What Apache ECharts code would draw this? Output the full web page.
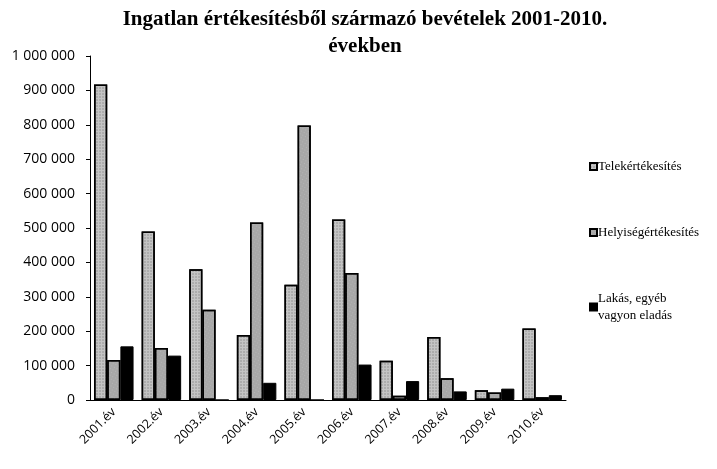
<!DOCTYPE html>
<html>
<head>
<meta charset="utf-8">
<script src="https://cdn.jsdelivr.net/npm/echarts@6/dist/echarts.min.js"></script>
<style>
html, body { margin: 0; padding: 0; background: #fff; }
#main { width: 717px; height: 469px; }
</style>
</head>
<body>
<div id="main"></div>
<script>
var years = ['2001.év', '2002.év', '2003.év', '2004.év', '2005.év', '2006.év', '2007.év', '2008.év', '2009.év', '2010.év'];
var telek = [917000, 490000, 380000, 189000, 335000, 525000, 114000, 183000, 28000, 208000];
var helyiseg = [116000, 151000, 262000, 516000, 798000, 369000, 12000, 63000, 22000, 8000];
var lakas = [156000, 129000, 0, 50000, 0, 103000, 55000, 25000, 33000, 14000];
var yTicks = [0, 100000, 200000, 300000, 400000, 500000, 600000, 700000, 800000, 900000, 1000000];

function fmt(v) {
    return String(v).replace(/\B(?=(\d{3})+(?!\d))/g, ' ');
}

var chart = echarts.init(document.getElementById('main'));
option = {
    backgroundColor: '#fff',
    title: {
        text: 'Ingatlan értékesítésből származó bevételek 2001-2010.\névekben',
        left: 360,
        textAlign: 'center',
        top: 1,
        textStyle: {
            fontFamily: 'Liberation Serif',
            fontWeight: 'bold',
            fontSize: 21,
            lineHeight: 27,
            color: '#000'
        }
    },
    legend: {
        orient: 'vertical',
        left: 584,
        top: 153,
        itemGap: 49,
        itemWidth: 7,
        itemHeight: 7,
        icon: 'rect',
        textStyle: {
            fontFamily: 'Liberation Serif',
            fontSize: 13,
            color: '#000',
            lineHeight: 17,
            padding: [0, 0, 0, -4]
        },
        data: ['Telekértékesítés', 'Helyiségértékesítés', 'Lakás, egyéb\nvagyon eladás']
    },
    grid: {
        left: 90,
        right: 151,
        top: 56,
        bottom: 69
    },
    xAxis: {
        type: 'category',
        data: years,
        axisLine: { lineStyle: { color: '#000', width: 1 } },
        axisTick: { lineStyle: { color: '#000' }, length: 4 },
        axisLabel: {
            rotate: 45,
            color: '#000',
            fontFamily: 'Open Sans',
            fontSize: 12.5,
            margin: 10
        }
    },
    yAxis: {
        type: 'value',
        min: 0,
        max: 1000000,
        interval: 100000,
        axisLine: { show: true, lineStyle: { color: '#000', width: 1 } },
        axisTick: { show: true, lineStyle: { color: '#000' }, length: 4 },
        splitLine: { show: false },
        axisLabel: {
            color: '#000',
            fontFamily: 'Open Sans',
            fontSize: 14,
            margin: 15,
            formatter: function (v) { return yTicks.indexOf(v) >= 0 ? fmt(v) : ''; }
        }
    },
    series: [{
        name: 'Telekértékesítés',
        type: 'bar',
        data: telek,
        barGap: '0%',
        barCategoryGap: '17%',
        itemStyle: {
            color: '#c4c4c4',
            borderColor: '#000',
            borderWidth: 1.5,
            decal: { symbol: 'rect', symbolSize: 0.6, color: 'rgba(60,60,60,0.55)', dashArrayX: [2, 1], dashArrayY: [2, 1], rotation: 0 }
        }
    }, {
        name: 'Helyiségértékesítés',
        type: 'bar',
        data: helyiseg,
        itemStyle: {
            color: '#a8a8a8',
            borderColor: '#000',
            borderWidth: 1.5,
            decal: { symbol: 'rect', symbolSize: 0.7, color: 'rgba(230,230,230,0.6)', dashArrayX: [1, 2], dashArrayY: [1, 2], rotation: 0.5 }
        }
    }, {
        name: 'Lakás, egyéb\nvagyon eladás',
        type: 'bar',
        data: lakas,
        itemStyle: {
            color: '#000',
            borderColor: '#000',
            borderWidth: 1
        }
    }]
};
chart.setOption(option);
</script>
</body>
</html>
